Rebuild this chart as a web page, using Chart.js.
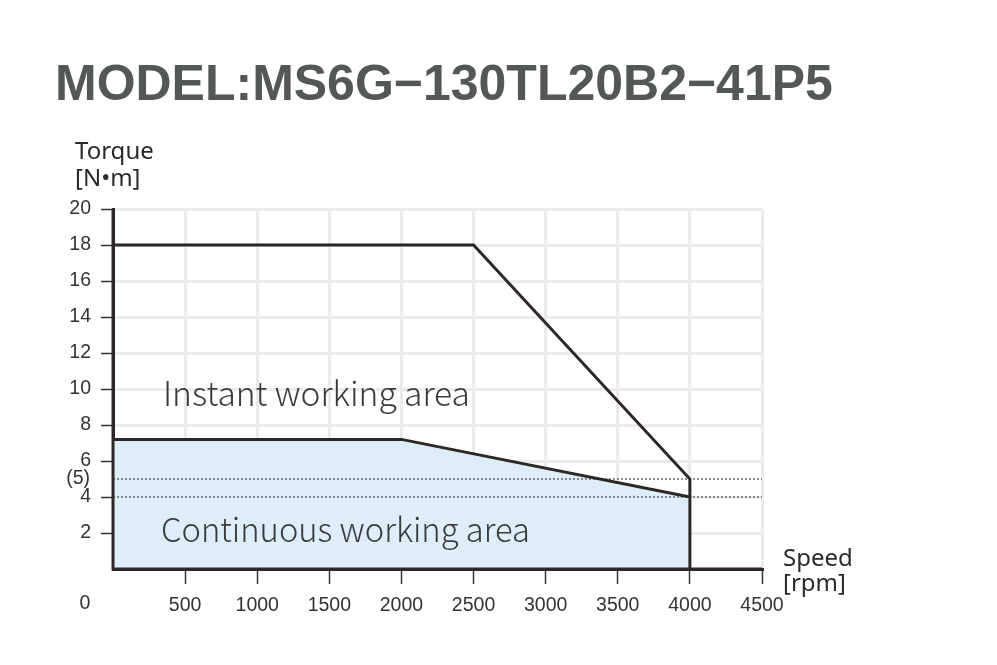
<!DOCTYPE html>
<html>
<head>
<meta charset="utf-8">
<script src="https://cdn.jsdelivr.net/npm/chart.js@4"></script>
<style>
  body { margin: 0; background: #fff; }
  #wrap { width: 997px; height: 665px; }
</style>
</head>
<body>
<div id="wrap"><canvas id="myChart" width="997" height="665"></canvas></div>
<script>
// chart data
const titleText = 'MODEL:MS6G\u2212130TL20B2\u221241P5';
const speedContinuous = [0, 2000, 4000, 4000];
const torqueContinuous = [7.2, 7.2, 4, 0];
const speedInstant = [0, 2500, 4000, 4000];
const torqueInstant = [18, 18, 5, 4];
const refTorques = [5, 4];      // dotted reference levels
const refSpeedRange = [0, 4500];
const xTickValues = [0, 500, 1000, 1500, 2000, 2500, 3000, 3500, 4000, 4500];
const yTickValues = [0, 2, 4, 6, 8, 10, 12, 14, 16, 18, 20];

const toPoints = (xs, ys) => xs.map((x, i) => ({ x: x, y: ys[i] }));

const tickFont = { family: '"Liberation Sans", Arial, sans-serif', size: 19.5 };
const lineColor = '#2d2727';

// axis lines again, so the blue fill does not hide them
const axisPlugin = {
    id: 'axisOnTop',
    afterDatasetsDraw(chart) {
        const ctx = chart.ctx;
        const a = chart.chartArea;
        ctx.save();
        ctx.strokeStyle = lineColor;
        ctx.lineWidth = 3;
        ctx.beginPath();
        ctx.moveTo(a.left, a.top);
        ctx.lineTo(a.left, a.bottom);
        ctx.moveTo(a.left - 1.5, a.bottom);
        ctx.lineTo(a.right, a.bottom);
        ctx.stroke();
        ctx.restore();
    }
};

// texts drawn on top of the chart
const textPlugin = {
    id: 'texts',
    afterDraw(chart) {
        const ctx = chart.ctx;
        const xs = chart.scales.x;
        const ys = chart.scales.y;
        ctx.save();
        ctx.textBaseline = 'alphabetic';
        ctx.textAlign = 'left';

        // title, fitted to its width
        ctx.fillStyle = '#535756';
        ctx.font = 'bold 100px "Liberation Sans", Arial, sans-serif';
        let size = 100 * 778 / ctx.measureText(titleText).width;
        ctx.font = `bold ${size}px "Liberation Sans", Arial, sans-serif`;
        ctx.fillText(titleText, 55, 100);

        // axis names
        ctx.fillStyle = '#2a2a2a';
        ctx.font = '24px "Noto Sans", sans-serif';
        ctx.fillText('Torque', 75, 159);
        ctx.fillText('[N\u2022m]', 75, 186);
        ctx.fillText('Speed', 783, 566);
        ctx.fillText('[rpm]', 783, 591);

        // area labels
        ctx.fillStyle = '#3a3a3a';
        const areaFont = '300 100px "Noto Sans CJK SC", "Noto Sans", sans-serif';
        ctx.font = areaFont;
        size = 100 * 307 / ctx.measureText('Instant working area').width;
        ctx.font = areaFont.replace('100px', size + 'px');
        ctx.fillText('Instant working area', 163, 406);
        ctx.font = areaFont;
        size = 100 * 369 / ctx.measureText('Continuous working area').width;
        ctx.font = areaFont.replace('100px', size + 'px');
        ctx.fillText('Continuous working area', 161, 542);

        // origin label and (5) marker
        ctx.fillStyle = '#333';
        ctx.font = '19.5px "Liberation Sans", Arial, sans-serif';
        ctx.textBaseline = 'middle';
        ctx.textAlign = 'center';
        ctx.fillText('0', xs.left - 28, 604);
        ctx.textAlign = 'right';
        ctx.fillText('(5)', ys.right - 23, ys.getPixelForValue(refTorques[0]));
        ctx.restore();
    }
};

const ctx = document.getElementById('myChart').getContext('2d');
new Chart(ctx, {
    type: 'line',
    data: {
        datasets: [
            {
                data: toPoints(speedContinuous, torqueContinuous),
                borderColor: lineColor,
                borderWidth: 3,
                backgroundColor: '#deedf9',
                fill: 'origin',
                order: 3
            },
            {
                data: toPoints(refSpeedRange, [refTorques[0], refTorques[0]]),
                borderColor: '#222',
                borderWidth: 1,
                borderDash: [2, 2],
                fill: false,
                order: 2
            },
            {
                data: toPoints(refSpeedRange, [refTorques[1], refTorques[1]]),
                borderColor: '#222',
                borderWidth: 1,
                borderDash: [2, 2],
                fill: false,
                order: 2
            },
            {
                data: toPoints(speedInstant, torqueInstant),
                borderColor: lineColor,
                borderWidth: 3,
                fill: false,
                order: 1
            }
        ]
    },
    options: {
        responsive: false,
        animation: false,
        devicePixelRatio: 1,
        layout: { padding: { left: 0, top: 209, right: 235, bottom: 0 } },
        elements: {
            point: { radius: 0 },
            line: { tension: 0, borderJoinStyle: 'miter' }
        },
        plugins: {
            legend: { display: false },
            tooltip: { enabled: false },
            title: { display: false }
        },
        scales: {
            x: {
                type: 'linear',
                min: xTickValues[0],
                max: xTickValues[xTickValues.length - 1],
                afterBuildTicks: scale => { scale.ticks = xTickValues.map(v => ({ value: v })); },
                afterFit: scale => { scale.height = 96; },
                ticks: {
                    autoSkip: false,
                    maxRotation: 0,
                    padding: 10,
                    color: '#333',
                    font: tickFont,
                    callback: v => v === 0 ? '' : v
                },
                grid: {
                    color: c => c.tick && c.tick.value === 0 ? 'transparent' : '#ebebeb',
                    lineWidth: 3,
                    tickLength: 15,
                    tickWidth: 1.5,
                    tickColor: c => c.tick && c.tick.value === 0 ? 'transparent' : '#333'
                },
                border: { display: true, color: lineColor, width: 3 }
            },
            y: {
                type: 'linear',
                min: yTickValues[0],
                max: yTickValues[yTickValues.length - 1],
                afterBuildTicks: scale => { scale.ticks = yTickValues.map(v => ({ value: v })); },
                afterFit: scale => { scale.width = 113; },
                ticks: {
                    padding: 10,
                    color: '#333',
                    font: tickFont,
                    callback: v => v === 0 ? '' : v
                },
                grid: {
                    color: c => c.tick && c.tick.value === 0 ? 'transparent' : '#ebebeb',
                    lineWidth: 3,
                    tickLength: 12,
                    tickWidth: 1.5,
                    tickColor: c => c.tick && c.tick.value === 0 ? 'transparent' : '#333'
                },
                border: { display: true, color: lineColor, width: 3 }
            }
        }
    },
    plugins: [axisPlugin, textPlugin]
});
</script>
</body>
</html>
